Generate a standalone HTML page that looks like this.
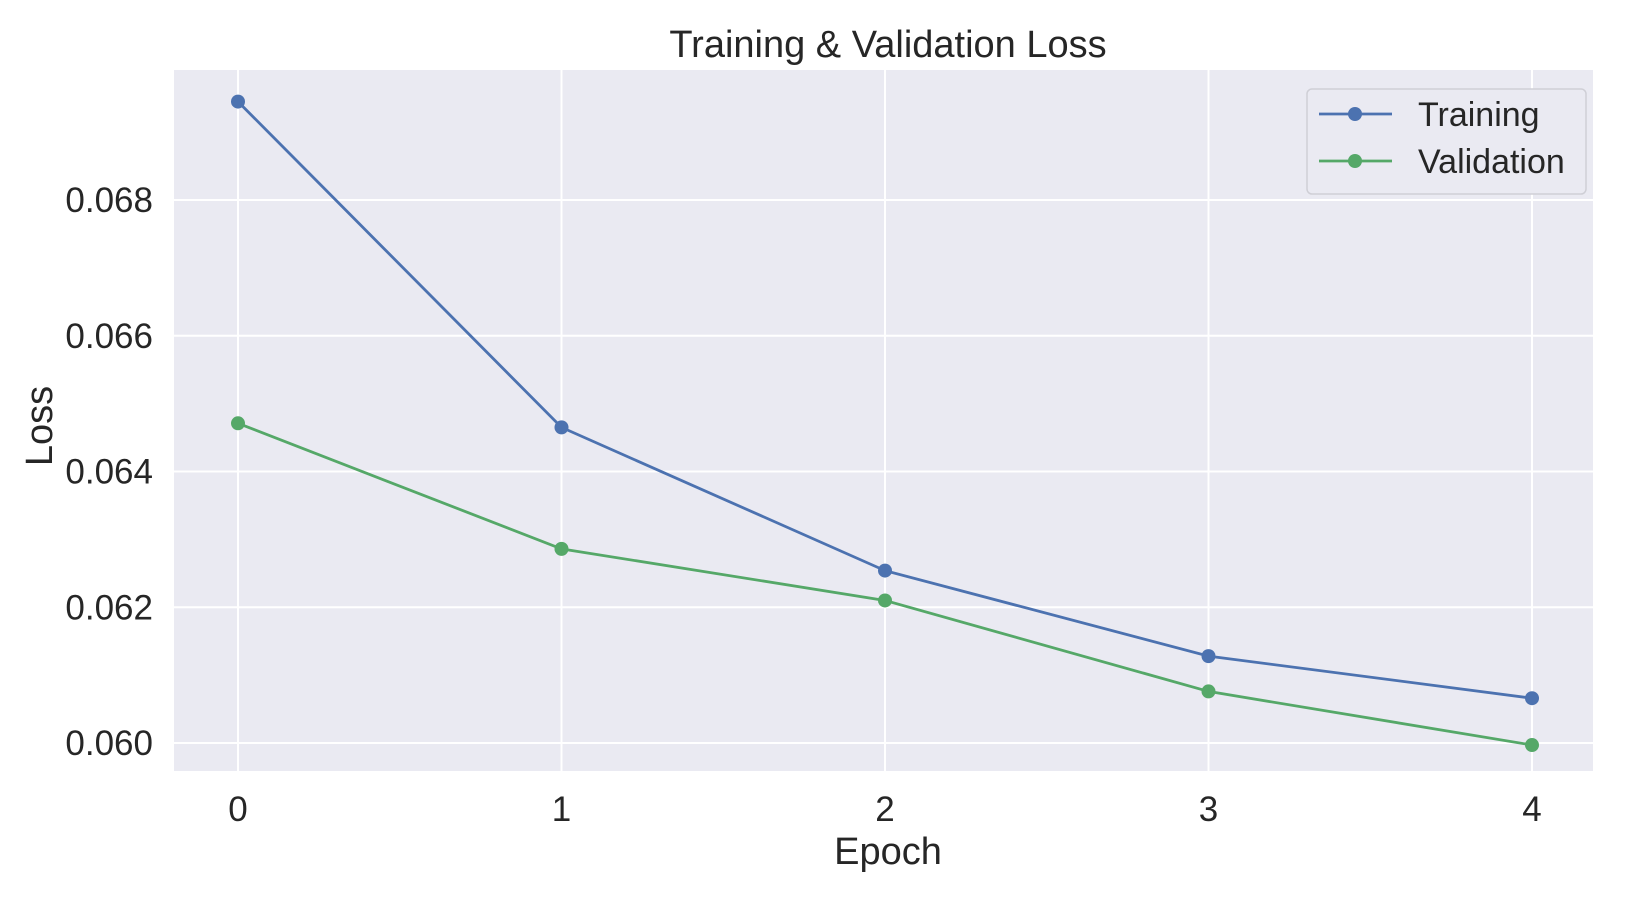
<!DOCTYPE html>
<html><head><meta charset="utf-8"><style>
body{margin:0;background:#fff;}
svg{display:block;font-family:"Liberation Sans",sans-serif;}
</style></head><body>
<svg width="1630" height="902">
<rect x="174" y="70" width="1419" height="701" fill="#eaeaf2"/>
<g id="grid"></g><g id="series"></g><g id="ticks" font-size="35" fill="#262626"></g>
<text x="888" y="57" text-anchor="middle" font-size="38" fill="#262626">Training &amp; Validation Loss</text>
<text x="888" y="864" text-anchor="middle" font-size="38" fill="#262626">Epoch</text>
<text transform="translate(52,426) rotate(-90)" text-anchor="middle" font-size="38" fill="#262626">Loss</text>
<g>
<rect x="1307" y="89" width="279" height="105" rx="5" fill="#eaeaf2" stroke="#cfcfd6" stroke-width="1.5"/>
<g><line x1="1319" y1="114" x2="1392" y2="114" stroke="#4c72b0" stroke-width="2.8"/><circle cx="1355" cy="114" r="7" fill="#4c72b0"/><text x="1418" y="126" font-size="34" fill="#262626">Training</text></g>
<g><line x1="1319" y1="161" x2="1392" y2="161" stroke="#55a868" stroke-width="2.8"/><circle cx="1355" cy="161" r="7" fill="#55a868"/><text x="1418" y="173" font-size="34" fill="#262626">Validation</text></g>
</g>
</svg>
<script>
const epochs=[0,1,2,3,4];
const trainingLoss=[0.06945,0.06465,0.06254,0.06128,0.06066];
const validationLoss=[0.06471,0.06286,0.06210,0.06076,0.05997];
const yTicks=[0.060,0.062,0.064,0.066,0.068];
const yTickLabels=["0.060","0.062","0.064","0.066","0.068"];
const NS="http://www.w3.org/2000/svg";
function xs(v){return 238+(v-0)*(1532-238)/4;}
function ys(v){return 200+(0.068-v)*(743-200)/0.008;}
function mk(t,a,p){const e=document.createElementNS(NS,t);for(const k in a)e.setAttribute(k,a[k]);p.appendChild(e);return e;}
const grid=document.getElementById('grid'),ticks=document.getElementById('ticks'),ser=document.getElementById('series');
epochs.forEach(v=>{
 const l=mk('line',{x1:xs(v),x2:xs(v),y1:70,y2:771,stroke:'#fff','stroke-width':2},grid);
 
 
 const t=mk('text',{x:xs(v),y:821,'text-anchor':'middle'},ticks);t.textContent=String(v);
 
 
});
yTicks.forEach((v,i)=>{
 const l=mk('line',{x1:174,x2:1593,y1:ys(v),y2:ys(v),stroke:'#fff','stroke-width':2},grid);
 
 
 const t=mk('text',{x:153,y:ys(v)+12,'text-anchor':'end'},ticks);t.textContent=yTickLabels[i];
 
 
});
function draw(vals,color,name){
 const g=mk('g',{},ser);
 
 
 const p=mk('polyline',{points:vals.map((v,i)=>xs(epochs[i])+','+ys(v)).join(' '),fill:'none',stroke:color,'stroke-width':2.8},g);
 
 
 vals.forEach((v,i)=>{
  const c=mk('circle',{cx:xs(epochs[i]),cy:ys(v),r:7,fill:color},g);
  
  
 });
}
draw(trainingLoss,'#4c72b0','training');
draw(validationLoss,'#55a868','validation');
</script>
</body></html>
